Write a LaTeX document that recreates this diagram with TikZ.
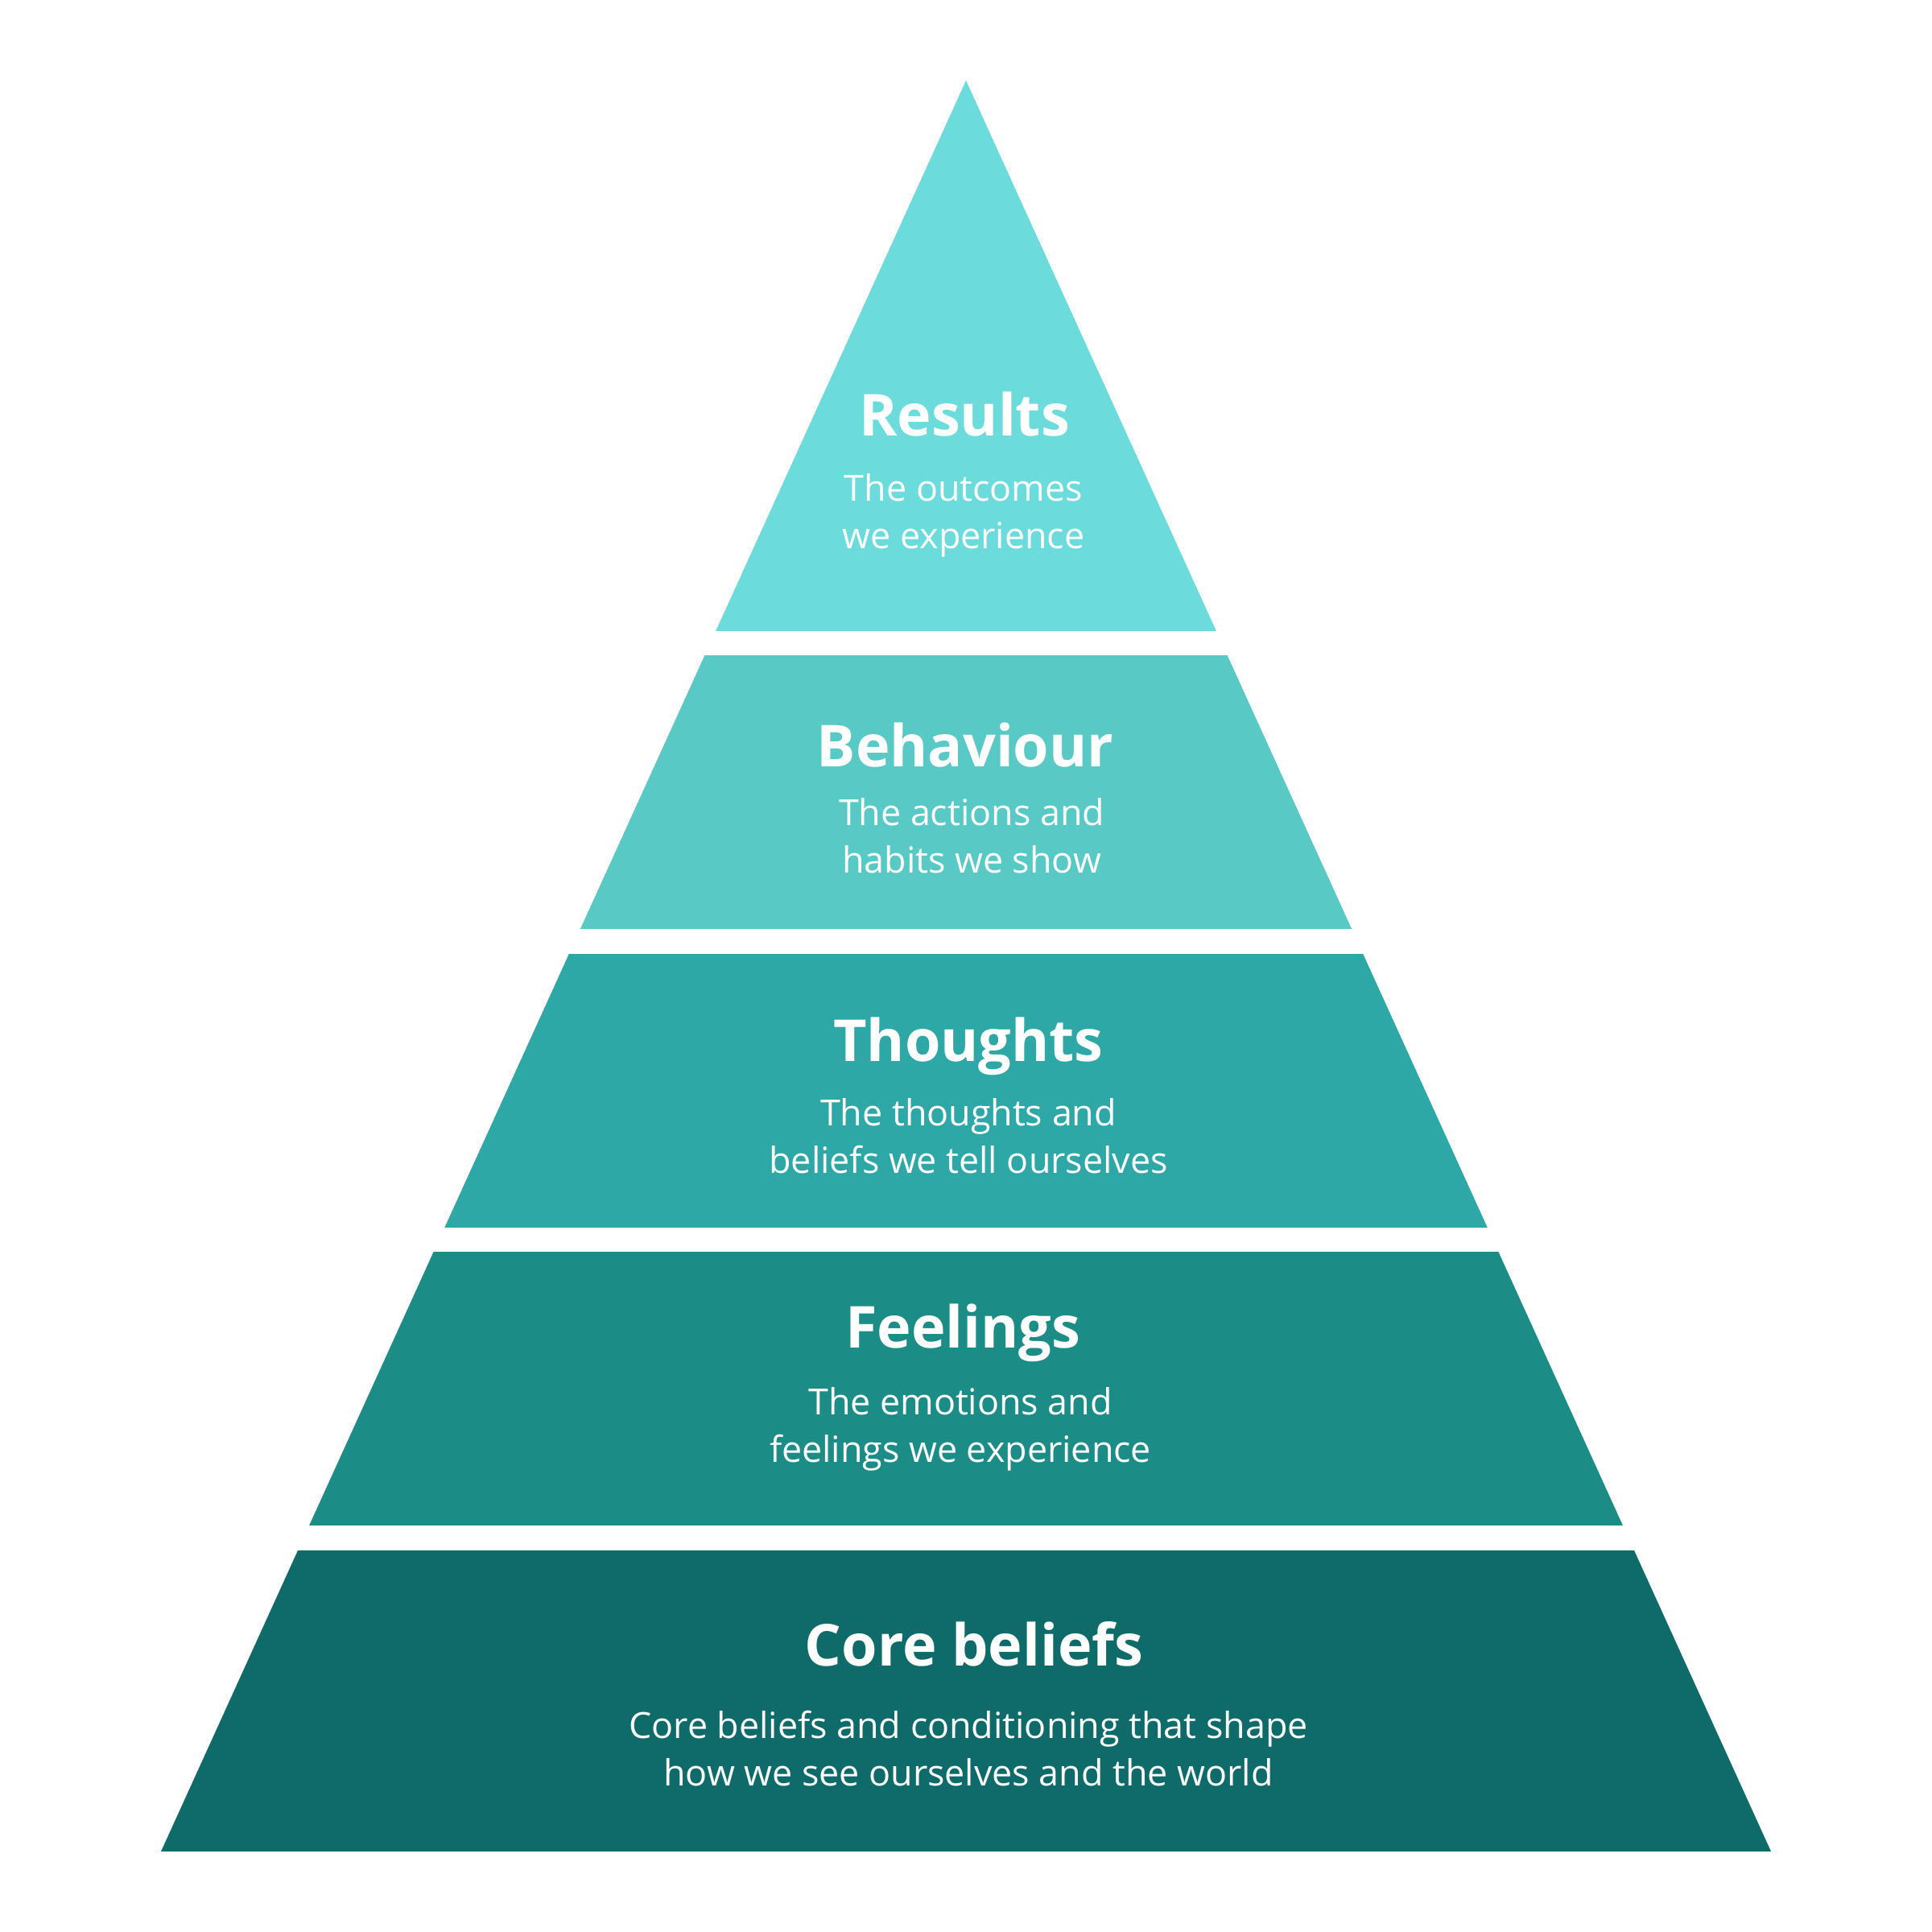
\documentclass[tikz,border=0pt]{standalone}
\usepackage{fontspec}
\setmainfont{Open Sans}
\definecolor{layerA}{HTML}{6BDBDB}
\definecolor{layerB}{HTML}{59C9C6}
\definecolor{layerC}{HTML}{2DA8A6}
\definecolor{layerD}{HTML}{1B8C86}
\definecolor{layerE}{HTML}{0F6B69}
\tikzset{
  heading/.style={text=white, inner sep=0pt, anchor=base,
    font=\bfseries\fontsize{20.45}{25}\selectfont},
  blurb/.style={text=white, inner sep=0pt, anchor=base, align=center,
    font=\fontsize{12.75}{16.8}\selectfont}
}
\begin{document}
\begin{tikzpicture}
  \fill[white] (0,0) rectangle (24,24);
  \useasboundingbox (0,0) rectangle (24,24);
  \begin{scope}
    \clip (2,1) -- (12,23) -- (22,1) -- cycle;
    \fill[layerE] (0,1) rectangle (24,4.74);
    \fill[layerD] (0,5.05) rectangle (24,8.45);
    \fill[layerC] (0,8.75) rectangle (24,12.15);
    \fill[layerB] (0,12.46) rectangle (24,15.86);
    \fill[layerA] (0,16.16) rectangle (24,23.5);
  \end{scope}
  \draw
    (11.98,18.58) node[heading] (results){Results}
    (11.97,17.18) node[blurb] (results-sub){The outcomes\\we experience}
    (11.99,14.47) node[heading] (behaviour){Behaviour}
    (12.07,13.15) node[blurb] (behaviour-sub){The actions and\\habits we show}
    (12.03,10.81) node[heading] (thoughts){Thoughts}
    (12.03,9.42) node[blurb] (thoughts-sub){The thoughts and\\beliefs we tell ourselves}
    (11.96,7.25) node[heading] (feelings){Feelings}
    (11.93,5.83) node[blurb] (feelings-sub){The emotions and\\feelings we experience}
    (12.10,3.30) node[heading] (core){Core beliefs}
    (12.03,1.81) node[blurb] (core-sub){Core beliefs and conditioning that shape\\how we see ourselves and the world};
\end{tikzpicture}
\end{document}
